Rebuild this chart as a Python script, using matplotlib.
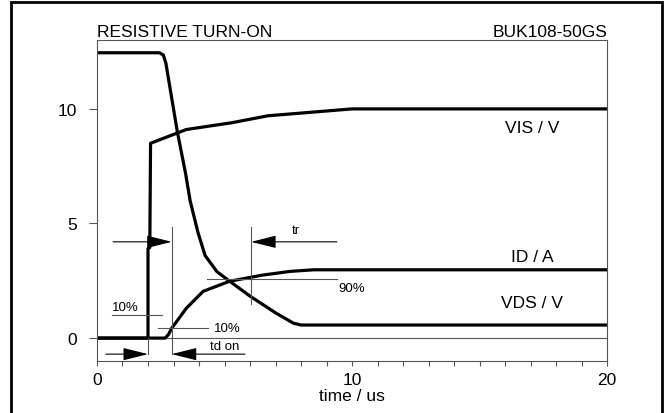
import matplotlib
matplotlib.use('Agg')
import matplotlib.pyplot as plt
from matplotlib.patches import Rectangle

plt.rcParams['font.family'] = ['Liberation Sans', 'DejaVu Sans']

# curves (time in us)
t_vds = [0, 2.45, 2.6, 2.7, 3.15, 3.47, 3.65, 3.96, 4.24, 4.7, 5.2, 6.0, 7.0, 7.7, 8.0, 20]
vds = [12.45, 12.45, 12.35, 12.0, 9.0, 7.2, 6.0, 4.6, 3.6, 2.9, 2.48, 1.83, 1.1, 0.65, 0.57, 0.57]

t_vis = [0, 2.0, 2.0, 2.07, 2.1, 3.5, 5.3, 6.7, 10, 20]
vis = [0, 0, 3.9, 3.95, 8.5, 9.1, 9.4, 9.7, 10, 10]

t_id = [0, 2.67, 2.8, 2.93, 3.5, 4.16, 5.2, 6.5, 7.57, 8.5, 20]
i_d = [0, 0, 0.15, 0.43, 1.3, 2.04, 2.48, 2.75, 2.91, 2.98, 2.98]

# timing markers
t_on = 2.0      # gate step
t_10 = 2.93     # 10% of ID
t_90 = 6.04     # 90% of ID
lvl_arrow = 4.2
lvl_td = -0.7

fig = plt.figure(figsize=(6.67, 4.14), dpi=100)
ax = fig.add_axes([0.1454, 0.1256, 0.765, 0.775])

ax.plot(t_vds, vds, color='k', lw=2.3, solid_joinstyle='round')
ax.plot(t_vis, vis, color='k', lw=2.3, solid_joinstyle='round')
ax.plot(t_id, i_d, color='k', lw=2.3, solid_joinstyle='round')

gray = '#555555'
ax.axhline(0, color=gray, lw=0.8, zorder=0)
ax.plot([t_10, t_10], [lvl_td, 4.83], color=gray, lw=0.8)
ax.plot([t_90, t_90], [1.48, 4.83], color=gray, lw=0.8)
ax.plot([t_on, t_on], [lvl_td, 0], color=gray, lw=0.8)
ax.plot([4.3, 9.4], [2.56, 2.56], color=gray, lw=0.8)
ax.plot([0.6, 2.55], [1.0, 1.0], color=gray, lw=0.8)
ax.plot([2.4, 4.35], [0.43, 0.43], color=gray, lw=0.8)

arr = dict(arrowstyle='-|>,head_length=1.2,head_width=0.3', mutation_scale=13,
           lw=0.8, color='k', shrinkA=0, shrinkB=0)
ax.annotate('', xy=(t_10, lvl_arrow), xytext=(0.63, lvl_arrow), arrowprops=arr)
ax.annotate('', xy=(t_90, lvl_arrow), xytext=(9.4, lvl_arrow), arrowprops=arr)
ax.annotate('', xy=(t_on, lvl_td), xytext=(0.35, lvl_td), arrowprops=arr)
ax.annotate('', xy=(t_10, lvl_td), xytext=(5.8, lvl_td), arrowprops=arr)

fs = 9.5
ax.text(7.8, 4.45, 'tr', fontsize=fs, ha='center', va='bottom')
ax.text(9.45, 2.45, '90%', fontsize=fs, ha='left', va='top')
ax.text(0.6, 1.1, '10%', fontsize=fs, ha='left', va='bottom')
ax.text(4.6, 0.45, '10%', fontsize=fs, ha='left', va='center')
ax.text(5.0, -0.62, 'td on', fontsize=fs, ha='center', va='bottom')

big = 12.5
ax.text(17.05, 9.2, 'VIS / V', fontsize=big, ha='center', va='center')
ax.text(17.05, 3.55, 'ID / A', fontsize=big, ha='center', va='center')
ax.text(17.05, 1.55, 'VDS / V', fontsize=big, ha='center', va='center')

ax.text(0, 1.005, 'RESISTIVE TURN-ON', transform=ax.transAxes, fontsize=big,
        ha='left', va='bottom')
ax.text(1, 1.005, 'BUK108-50GS', transform=ax.transAxes, fontsize=big,
        ha='right', va='bottom')

ax.set_xlim(0, 20)
ax.set_ylim(-1, 13)
ax.set_xticks([0, 10, 20])
ax.set_xticks(range(0, 21), minor=True)
ax.set_yticks([0, 5, 10])
ax.tick_params(axis='x', which='both', length=3.6, width=0.8, color=gray,
               labelsize=big, pad=4)
ax.tick_params(axis='y', length=5.8, width=0.8, color=gray, labelsize=big, pad=8.5)
for s in ax.spines.values():
    s.set_color(gray)
    s.set_linewidth(0.8)
ax.set_xlabel('time / us', fontsize=big, labelpad=1)

fig.patches.append(Rectangle((11 / 667, -0.02), 651 / 667, 1.013, transform=fig.transFigure,
                             fill=False, lw=2, edgecolor='k'))

fig.savefig('out.png', dpi=100)
